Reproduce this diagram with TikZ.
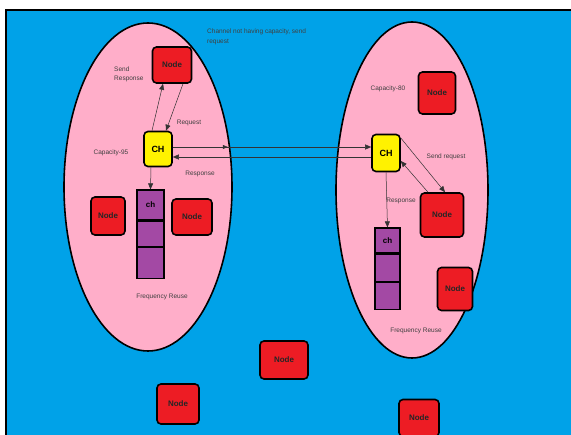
\documentclass[tikz,border=0pt]{standalone}
\usepackage{fontspec}
\setmainfont{Liberation Sans}
\usetikzlibrary{arrows.meta}
\definecolor{bgblue}{HTML}{00A2E8}
\definecolor{cellpink}{HTML}{FFAEC9}
\definecolor{nodered}{HTML}{ED1C24}
\definecolor{chyellow}{HTML}{FFF200}
\definecolor{stackpurple}{HTML}{A349A4}
\definecolor{lbl}{HTML}{404040}
\tikzset{
  nodebox/.style={draw=black, line width=1.6pt, fill=nodered, rounded corners=4pt, inner sep=0pt,
    font=\fontsize{8}{9}\selectfont\bfseries, text=black!85},
  chbox/.style={draw=black, line width=1.6pt, fill=chyellow, rounded corners=4pt, inner sep=0pt,
    font=\fontsize{9}{10}\selectfont\bfseries},
  cellbox/.style={draw=black, line width=1.2pt, fill=stackpurple, inner sep=0pt, font=\fontsize{8}{9}\selectfont\bfseries},
  cellarea/.style={draw=black, line width=1.6pt, fill=cellpink},
  lab/.style={text=lbl, font=\fontsize{6.5}{8}\selectfont, inner sep=0pt},
  conn/.style={draw=black!80, line width=0.5pt, -{Triangle[length=6pt,width=5pt]}},
}
\begin{document}
\begin{tikzpicture}[x=1pt,y=-1pt]
\useasboundingbox (0,0) rectangle (571,435);
\fill[white] (0,0) rectangle (571,435);
\draw[fill=bgblue, line width=1.6pt] (6,10) rectangle (580,445);
% cells
\draw[cellarea] (148,187) ellipse [x radius=84, y radius=164];
\draw[cellarea] (412,190) ellipse [x radius=76, y radius=168];

% left cell
\node[nodebox, minimum width=39pt, minimum height=36pt] (ln1) at (172,65) {Node};
\node[chbox, minimum width=28pt, minimum height=35pt] (lch) at (158,149) {CH};
\node[nodebox, minimum width=34pt, minimum height=38pt] (ln2) at (108,216) {Node};
\node[nodebox, minimum width=40pt, minimum height=36pt] (ln3) at (192,217) {Node};
\node[cellbox, minimum width=27pt, minimum height=30pt] (ls1) at (150.5,205) {ch};
\node[cellbox, minimum width=27pt, minimum height=25pt, anchor=north] (ls2) at (ls1.south) {};
\node[cellbox, minimum width=27pt, minimum height=31pt, anchor=north] (ls3) at (ls2.south) {};

\node[lab, align=left, anchor=north west] (lsend) at (114,67) {Send\\[1pt]Response};
\node[lab] (lreq) at (189,123) {Request};
\node[lab] (lcap) at (111,153) {Capacity-95};
\node[lab] (lresp) at (200,174) {Response};
\node[lab] (lfr) at (162,297) {Frequency Reuse};
\node[lab, align=left, anchor=north west] (ltitle) at (207,29) {Channel not having capacity, send\\[2pt]request};

\coordinate (lchA) at ([xshift=-6pt]lch.north);
\coordinate (lchB) at ([xshift=8pt]lch.north);
\coordinate (ln1A) at ([xshift=-9pt]ln1.south);
\coordinate (ln1B) at ([xshift=11pt]ln1.south);
\draw[conn] (lchA) -- (ln1A);
\draw[conn] (ln1B) -- (lchB);
\draw[conn] ([xshift=-7pt]lch.south) -- (ls1.north);

% right cell
\node[nodebox, minimum width=37pt, minimum height=42pt] (rn1) at (437,93) {Node};
\node[chbox, minimum width=28pt, minimum height=37pt] (rch) at (386,153) {CH};
\node[nodebox, minimum width=43pt, minimum height=44pt] (rn2) at (442,215) {Node};
\node[nodebox, minimum width=35pt, minimum height=43pt] (rn3) at (455,289) {Node};
\node[cellbox, minimum width=25pt, minimum height=25pt] (rs1) at (387.5,240.5) {ch};
\node[cellbox, minimum width=25pt, minimum height=27pt, anchor=north] (rs2) at (rs1.south) {};
\node[cellbox, minimum width=25pt, minimum height=27pt, anchor=north] (rs3) at (rs2.south) {};

\node[lab] (rcap) at (388,89) {Capacity-80};
\node[lab] (rsend) at (446,157) {Send request};
\node[lab] (rresp) at (401,201) {Response};
\node[lab] (rfr) at (416,331) {Frequency Reuse};

\draw[conn] ([yshift=15pt]rch.east) -- ([xshift=3pt]rn2.north);
\draw[conn] ([xshift=-14pt]rn2.north) -- ([yshift=-8pt]rch.east);
\draw[conn] (rch.south) -- (rs1.north);

% links between channel heads
\coordinate (lr1) at ([yshift=2pt]lch.east);
\draw[conn] (lr1) -- (lr1 -| rch.west);
\draw[black!80, line width=0.5pt, -{Triangle[length=5pt,width=4pt]}] (lr1) -- ([xshift=55pt]lr1);
\coordinate (rl1) at ([yshift=-4pt]rch.west);
\draw[conn] (rl1) -- (rl1 -| lch.east);

% outside nodes
\node[nodebox, minimum width=48pt, minimum height=38pt] (on1) at (284,360) {Node};
\node[nodebox, minimum width=42pt, minimum height=40pt] (on2) at (178,404) {Node};
\node[nodebox, minimum width=40pt, minimum height=37pt] (on3) at (419,418) {Node};
\end{tikzpicture}
\end{document}
